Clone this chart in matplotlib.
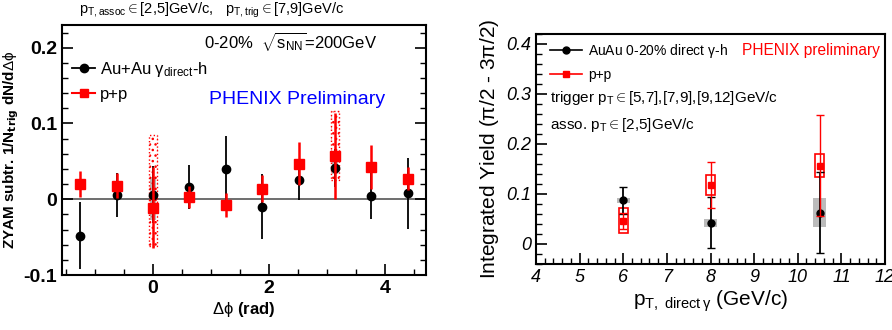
import numpy as np
import matplotlib
matplotlib.use("Agg")
import matplotlib.pyplot as plt
from matplotlib.patches import Rectangle
from matplotlib.lines import Line2D
from matplotlib.ticker import MultipleLocator

plt.rcParams['font.family'] = ['Liberation Sans', 'DejaVu Sans']
plt.rcParams['mathtext.fontset'] = 'custom'
plt.rcParams['mathtext.rm'] = 'Liberation Sans'
plt.rcParams['mathtext.it'] = 'Liberation Sans'

# ---- left panel: correlation functions ----
dphi = np.array([-1.257, -0.628, 0.0, 0.628, 1.257, 1.885, 2.513, 3.142, 3.770, 4.398])
auau_y = [-0.048, 0.006, 0.006, 0.016, 0.040, -0.010, 0.026, 0.041, 0.004, 0.008]
auau_err = [0.044, 0.029, 0.038, 0.029, 0.043, 0.043, 0.027, 0.025, 0.030, 0.047]
pp_y = [0.020, 0.018, -0.011, 0.003, -0.008, 0.014, 0.047, 0.057, 0.042, 0.027]
pp_err = [0.017, 0.017, 0.054, 0.015, 0.016, 0.018, 0.028, 0.057, 0.029, 0.015]
# systematic boxes (x, low, high)
auau_sys = [(0.0, -0.027, 0.030), (3.142, 0.033, 0.049)]
pp_sys = [(0.0, -0.062, 0.085), (3.142, 0.025, 0.116)]

# ---- right panel: integrated yields ----
pt = [6.0, 8.0, 10.5]
auau_iy = [0.088, 0.043, 0.063]
auau_iy_err = [0.027, 0.051, 0.081]
auau_iy_sys = [0.005, 0.008, 0.029]
pp_iy = [0.047, 0.119, 0.157]
pp_iy_err = [0.016, 0.046, 0.100]
pp_iy_sys = [0.025, 0.020, 0.023]

W, H = 892, 330
fig = plt.figure(figsize=(W / 100, H / 100), dpi=100)

def px(l, t, r, b):
    return [l / W, 1 - b / H, (r - l) / W, (b - t) / H]

ax1 = fig.add_axes(px(62, 25, 426, 275))
ax1.set_xlim(-np.pi / 2, 3 * np.pi / 2)
ax1.set_ylim(-0.1, 0.23)
ax1.axhline(0, color='#555555', lw=1.2, zorder=1)

for x, lo, hi in auau_sys:
    ax1.add_patch(Rectangle((x - 0.06, lo), 0.12, hi - lo, color='#bbbbbb', lw=0, zorder=2))
for x, lo, hi in pp_sys:
    ax1.add_patch(Rectangle((x - 0.07, lo), 0.14, hi - lo, fill=False, hatch='...',
                            edgecolor='red', lw=1, ls=':', zorder=3))

ax1.errorbar(dphi, auau_y, yerr=auau_err, fmt='o', color='black', ms=6, lw=1.3,
             capsize=0, zorder=4)
ax1.errorbar(dphi, pp_y, yerr=pp_err, fmt='s', color='red', ms=7, lw=1.8,
             capsize=0, zorder=5)

ax1.xaxis.set_major_locator(MultipleLocator(2))
ax1.xaxis.set_minor_locator(MultipleLocator(0.5))
ax1.yaxis.set_major_locator(MultipleLocator(0.1))
ax1.yaxis.set_minor_locator(MultipleLocator(0.02))
ax1.tick_params(which='both', direction='in', right=True, labelsize=14)
ax1.tick_params(which='major', length=8, width=1.2)
ax1.tick_params(which='minor', length=4, width=1)
ax1.set_yticks([-0.1, 0, 0.1, 0.2])
ax1.set_yticklabels(['-0.1', '0', '0.1', '0.2'], fontweight='bold')
ax1.set_xticks([0, 2, 4])
ax1.set_xticklabels(['0', '2', '4'], fontweight='bold')
for s in ax1.spines.values():
    s.set_linewidth(1.5)

ax1.set_xlabel(r'$\Delta\phi$ (rad)', fontsize=12, fontweight='bold', labelpad=2)
ax1.set_ylabel(r'ZYAM subtr. 1/N$_{\mathbf{trig}}$ dN/d$\Delta\phi$', fontsize=11,
               fontweight='bold', labelpad=2)
fig.text(79 / W, 1 - 10 / H, r'p$_{T,assoc}$$\in$[2,5]GeV/c,   p$_{T,trig}$$\in$[7,9]GeV/c',
         fontsize=10.5, va='center', ha='left')
ax1.text(0.39, 0.935, r'0-20%  $\sqrt{s_{NN}}$=200GeV', transform=ax1.transAxes,
         fontsize=12, va='center')
ax1.text(0.405, 0.70, 'PHENIX Preliminary', transform=ax1.transAxes, fontsize=14,
         color='blue', va='center')
h1 = [Line2D([], [], color='black', marker='o', ms=6, lw=1.3),
      Line2D([], [], color='red', marker='s', ms=6, lw=1.5)]
ax1.legend(h1, [r'Au+Au $\gamma_{direct}$-h', 'p+p'], loc='upper left',
           bbox_to_anchor=(0.0, 0.9), frameon=False, fontsize=12,
           handlelength=1.4, handletextpad=0.3, borderaxespad=0.2, labelspacing=0.5)

# ---- right panel ----
ax2 = fig.add_axes(px(536, 34, 885, 264))
ax2.set_xlim(4, 12)
ax2.set_ylim(-0.04, 0.42)

for x, y, s in zip(pt, auau_iy, auau_iy_sys):
    ax2.add_patch(Rectangle((x - 0.15, y - s), 0.3, 2 * s, color='#bbbbbb', lw=0, zorder=2))
for x, y, s in zip(pt, pp_iy, pp_iy_sys):
    ax2.add_patch(Rectangle((x - 0.1, y - s), 0.2, 2 * s, fill=False, edgecolor='red',
                            lw=1.2, zorder=3))

ax2.errorbar(pt, auau_iy, yerr=auau_iy_err, fmt='o', color='black', ms=5, lw=1.3,
             capsize=3, zorder=4)
ax2.errorbar(pt, pp_iy, yerr=pp_iy_err, fmt='s', color='red', ms=5, lw=1.0,
             capsize=3, zorder=5)

ax2.xaxis.set_major_locator(MultipleLocator(1))
ax2.xaxis.set_minor_locator(MultipleLocator(0.2))
ax2.yaxis.set_major_locator(MultipleLocator(0.1))
ax2.yaxis.set_minor_locator(MultipleLocator(0.02))
ax2.tick_params(which='both', direction='in', labelsize=13)
ax2.tick_params(which='major', length=8, width=1.2)
ax2.tick_params(which='minor', length=4, width=1)
ax2.set_yticks([0, 0.1, 0.2, 0.3, 0.4])
ax2.set_yticklabels(['0', '0.1', '0.2', '0.3', '0.4'], style='italic')
ax2.set_xticks(range(4, 13))
ax2.set_xticklabels([str(v) for v in range(4, 13)], style='italic')
for s in ax2.spines.values():
    s.set_linewidth(1.5)

ax2.set_xlabel(r'p$_{T,\ direct\,\gamma}$ (GeV/c)', fontsize=15, labelpad=2)
ax2.set_ylabel(r'Integrated Yield ($\pi$/2 - 3$\pi$/2)', fontsize=15, labelpad=4)
ax2.text(0.985, 0.93, 'PHENIX preliminary', transform=ax2.transAxes, fontsize=11.2,
         color='red', ha='right', va='center')
ax2.text(0.04, 0.723, r'trigger p$_T$$\in$[5,7],[7,9],[9,12]GeV/c', transform=ax2.transAxes,
         fontsize=11, va='center')
ax2.text(0.04, 0.604, r'asso. p$_T$$\in$[2,5]GeV/c', transform=ax2.transAxes,
         fontsize=11, va='center')
h2 = [Line2D([], [], color='black', marker='o', ms=5, lw=1.2),
      Line2D([], [], color='red', marker='s', ms=5, lw=1.2)]
ax2.legend(h2, [r'AuAu 0-20% direct $\gamma$-h', 'p+p'], loc='upper left',
           bbox_to_anchor=(0.015, 1.0), frameon=False, fontsize=10,
           handlelength=2.3, handletextpad=0.5, borderaxespad=0.2, labelspacing=0.55)

fig.savefig('out.png', dpi=100)
